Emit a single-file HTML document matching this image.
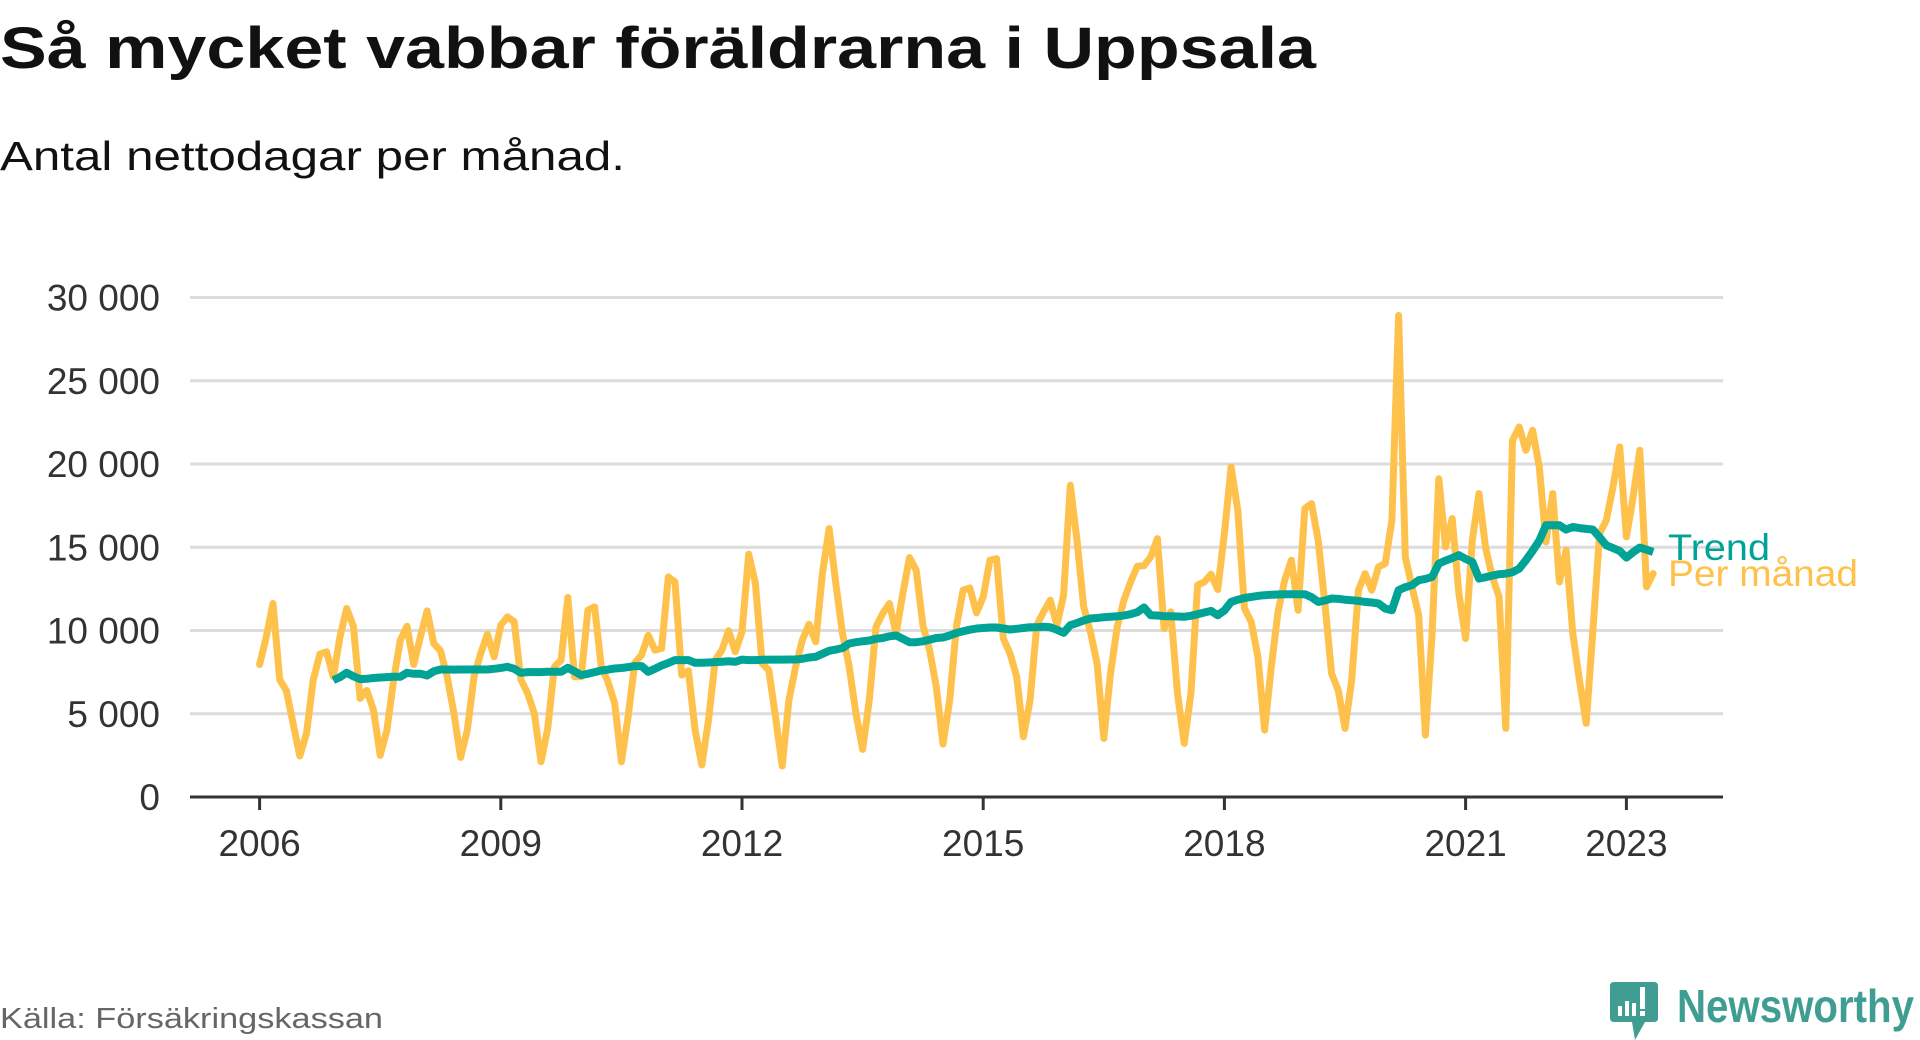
<!DOCTYPE html>
<html lang="sv">
<head>
<meta charset="utf-8">
<style>
html,body{margin:0;padding:0;background:#fff;}
body{width:1920px;height:1040px;overflow:hidden;font-family:"Liberation Sans","DejaVu Sans",sans-serif;}
svg{display:block;}
</style>
</head>
<body>
<svg id="chart" width="1920" height="1040" viewBox="0 0 1920 1040" xmlns="http://www.w3.org/2000/svg">
  <text x="0" y="68" font-family="Liberation Sans, sans-serif" font-weight="bold" font-size="58" fill="#111" textLength="1316" lengthAdjust="spacingAndGlyphs">Så mycket vabbar föräldrarna i Uppsala</text>
  <text x="0" y="170" font-family="Liberation Sans, sans-serif" font-size="41" fill="#111" textLength="625" lengthAdjust="spacingAndGlyphs">Antal nettodagar per månad.</text>
  <g id="grid"></g>
  <g id="yticks"></g>
  <g id="xticks"></g>
  <g id="series"></g>
  <text x="1668" y="560" font-family="Liberation Sans, sans-serif" font-size="37" fill="#00a396" textLength="102" lengthAdjust="spacingAndGlyphs">Trend</text>
  <text x="1668" y="586" font-family="Liberation Sans, sans-serif" font-size="37" fill="#fec24c" textLength="190" lengthAdjust="spacingAndGlyphs">Per månad</text>
  <text x="0" y="1028" font-family="Liberation Sans, sans-serif" font-size="29" fill="#666" textLength="383" lengthAdjust="spacingAndGlyphs">Källa: Försäkringskassan</text>
  <g>
    <path d="M1614 982 H1654 Q1658 982 1658 986 V1018 Q1658 1022 1654 1022 H1645 L1635 1040 L1632 1022 H1614 Q1610 1022 1610 1018 V986 Q1610 982 1614 982 Z" fill="#3f9e91"/>
    <rect x="1618" y="1006" width="4" height="10" fill="#fff"/>
    <rect x="1625" y="1001" width="4" height="15" fill="#fff"/>
    <rect x="1632" y="1003" width="4" height="13" fill="#fff"/>
    <rect x="1640" y="987" width="5" height="22" fill="#fff"/>
    <rect x="1640" y="1011" width="5" height="5" fill="#fff"/>
    <text x="1677" y="1022" font-family="Liberation Sans, sans-serif" font-weight="bold" font-size="46" fill="#3f9e91" textLength="237" lengthAdjust="spacingAndGlyphs">Newsworthy</text>
  </g>
</svg>
<script>
// Data (monthly, starting Jan 2006)
const startYear = 2006;
const perMonth = [
7960,9620,11620,7060,6380,4420,2460,3820,7020,8580,8720,7220,
9620,11320,10260,5920,6400,5220,2500,4020,7020,9420,10260,7960,
9620,11180,9220,8780,7220,5020,2380,4020,7220,8620,9780,8420,
10320,10820,10520,7060,6220,5020,2120,4120,7820,8220,11980,7220,
7220,11220,11420,7820,6920,5620,2120,4820,8060,8520,9720,8820,
8920,13220,12920,7320,7580,4020,1920,4620,8220,8820,9980,8720,
9920,14580,12820,8020,7620,4820,1860,5820,7820,9420,10380,9320,
13420,16120,12820,9820,7820,5020,2860,5820,10220,11020,11620,9820,
12220,14380,13620,10320,8820,6620,3180,5820,10220,12420,12560,11060,
12020,14220,14320,9520,8620,7220,3620,5820,10320,11120,11820,10320,
12120,18720,15420,11420,9920,8020,3520,7420,10220,11820,12920,13860,
13900,14420,15520,10120,11120,6220,3220,6220,12720,12920,13380,12460,
15820,19820,17220,11320,10520,8420,4020,7820,11120,13020,14220,11220,
17320,17620,15420,11620,7420,6400,4120,7020,12420,13420,12420,13820,
14020,16620,28920,14420,12620,10920,3720,9820,19120,15020,16720,12220,
9520,15420,18220,14920,13220,12020,4120,21420,22220,20820,22020,19820,
15320,18220,12920,14820,9820,7000,4420,10000,15820,16620,18620,21020,
15620,18020,20820,12620,13420
];
const trendStart = 11; // month index of first trend value (Dec 2006)
const trend = [
7020,7200,7460,7250,7080,7100,7150,7180,7200,7220,7220,7460,7400,
7400,7300,7550,7660,7660,7650,7660,7660,7660,7660,7660,7700,
7750,7820,7700,7460,7500,7500,7500,7520,7520,7520,7760,7550,
7320,7400,7500,7600,7650,7720,7750,7800,7860,7860,7520,7700,
7900,8050,8220,8220,8220,8060,8060,8080,8100,8120,8150,8120,
8250,8220,8220,8240,8250,8250,8250,8260,8260,8300,8380,8420,
8600,8780,8850,8950,9220,9300,9350,9400,9500,9550,9650,9700,
9500,9300,9300,9350,9450,9550,9580,9700,9850,9950,10050,10120,
10150,10180,10180,10120,10060,10100,10150,10200,10200,10220,10200,10050,
9860,10320,10450,10600,10720,10750,10800,10820,10850,10900,10980,11100,
11380,10920,10900,10860,10850,10840,10820,10880,10980,11080,11180,10920,
11200,11720,11850,11950,12020,12080,12120,12150,12160,12180,12180,12180,
12180,12000,11720,11800,11920,11900,11850,11820,11780,11720,11680,11620,
11320,11220,12420,12600,12720,13020,13100,13220,14020,14200,14350,14520,
14300,14120,13120,13200,13300,13380,13420,13500,13720,14220,14780,15400,
16320,16320,16320,16060,16220,16150,16100,16060,15600,15120,14950,14780,
14380,14700,14980,14850,14720
];
const yTicks = [0,5000,10000,15000,20000,25000,30000];
const yTickLabels = ["0","5 000","10 000","15 000","20 000","25 000","30 000"];
const xTickYears = [2006,2009,2012,2015,2018,2021,2023];

const NS = "http://www.w3.org/2000/svg";
const plotLeft = 190, plotRight = 1723, y0 = 797, yTop = 297.5, yMax = 30000;
const x0 = 259.6, pxPerYear = 80.4;
function yScale(v){ return y0 - (v / yMax) * (y0 - yTop); }
function xScale(monthIndex){ return x0 + (monthIndex / 12) * pxPerYear; }
function mk(tag, attrs){ const e = document.createElementNS(NS, tag); for (const k in attrs) e.setAttribute(k, attrs[k]); return e; }

const grid = document.getElementById('grid');
const yt = document.getElementById('yticks');
yTicks.forEach((v, i) => {
  if (v > 0) {
    const l = mk('line', {x1: plotLeft, x2: plotRight, y1: yScale(v), y2: yScale(v), stroke: '#dcdcdc', 'stroke-width': 3});
    
    
    grid.appendChild(l);
  }
  const t = mk('text', {x: 160, y: yScale(v) + 13, 'text-anchor': 'end', 'font-size': 37, fill: '#333', 'font-family': 'Liberation Sans, sans-serif'});
  
  
  t.textContent = yTickLabels[i];
  yt.appendChild(t);
});

const xt = document.getElementById('xticks');
const axis = mk('line', {x1: plotLeft, x2: plotRight, y1: y0, y2: y0, stroke: '#333', 'stroke-width': 3});


xt.appendChild(axis);
xTickYears.forEach(yr => {
  const x = xScale((yr - startYear) * 12);
  const tk = mk('line', {x1: x, x2: x, y1: y0, y2: y0 + 13, stroke: '#333', 'stroke-width': 3});
  
  
  xt.appendChild(tk);
  const t = mk('text', {x: x, y: 856, 'text-anchor': 'middle', 'font-size': 37, fill: '#333', 'font-family': 'Liberation Sans, sans-serif'});
  
  
  t.textContent = String(yr);
  xt.appendChild(t);
});

const series = document.getElementById('series');
const pm = mk('polyline', {points: perMonth.map((v, i) => xScale(i).toFixed(1) + ',' + yScale(v).toFixed(1)).join(' '), fill: 'none', stroke: '#fec24c', 'stroke-width': 7, 'stroke-linejoin': 'round', 'stroke-linecap': 'round'});


series.appendChild(pm);
const tr = mk('polyline', {points: trend.map((v, i) => xScale(i + trendStart).toFixed(1) + ',' + yScale(v).toFixed(1)).join(' '), fill: 'none', stroke: '#00a396', 'stroke-width': 8, 'stroke-linejoin': 'round'});


series.appendChild(tr);
</script>
</body>
</html>
